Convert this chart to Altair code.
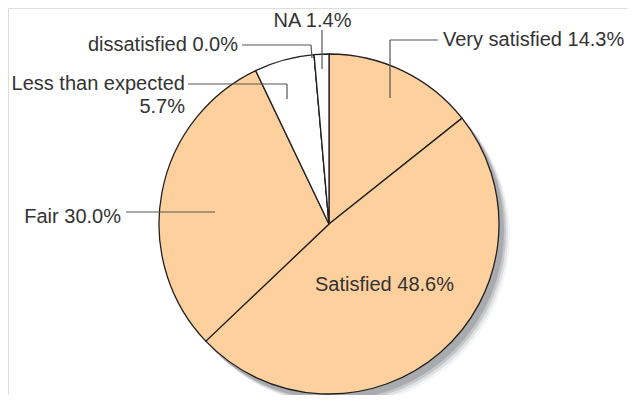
import altair as alt
import pandas as pd

# ---- data ----
categories = ["Very satisfied", "Satisfied", "Fair", "Less than expected", "dissatisfied", "NA"]
percentages = [14.3, 48.6, 30.0, 5.7, 0.0, 1.4]
slice_colors = ["#FDD09E", "#FDD09E", "#FDD09E", "#FFFFFF", "#FFFFFF", "#FFFFFF"]

# ---- layout (pixels in the view) ----
W, H = 619, 387
CX, CY, R = 321, 216, 170
FONT = "Liberation Sans"
FS = 20
TXT = "#333333"

pie_df = pd.DataFrame({
    "category": categories,
    "pct": percentages,
    "idx": list(range(len(categories))),
})

labels = [f"{c} {p:.1f}%" for c, p in zip(categories, percentages)]
label_df = pd.DataFrame({
    "text": [labels[0], labels[1], labels[2], "Less than expected", f"{percentages[3]:.1f}%", labels[4], labels[5]],
    "x": [435, 376.5, 113, 177, 177, 230, 304.5],
    "y": [38, 283, 215, 82, 105, 43, 19],
    "align": ["left", "center", "right", "right", "right", "right", "center"],
})

segments = pd.DataFrame({
    "x":  [382, 382, 118, 180, 279, 234, 303, 314],
    "y":  [90, 32, 204, 76, 76, 37, 37, 22],
    "x2": [382, 430, 207, 279, 279, 303, 304, 314],
    "y2": [32, 32, 204, 76, 91, 37, 50, 61],
})

xs = dict(scale=None, axis=None)

one = pd.DataFrame({"k": [1]})
shadow_layers = []
for off, op in [(12, 0.12), (10, 0.25), (8, 0.5), (6, 1.0)]:
    shadow_layers.append(
        alt.Chart(one).mark_arc(
            color="#A9ABAE", theta=0, theta2=6.2832, radius=R, opacity=op, strokeWidth=0
        ).encode(x=alt.value(CX + off - 1), y=alt.value(CY + off))
    )

pie = alt.Chart(pie_df).mark_arc(
    radius=R, stroke="#222222", strokeWidth=1.3
).encode(
    theta=alt.Theta("pct:Q", stack=True),
    order=alt.Order("idx:Q"),
    color=alt.Color("category:N", scale=alt.Scale(domain=categories, range=slice_colors), legend=None),
    x=alt.value(CX),
    y=alt.value(CY),
)

leaders = alt.Chart(segments).mark_rule(color="#555555", strokeWidth=1.2).encode(
    x=alt.X("x:Q", **xs), y=alt.Y("y:Q", **xs),
    x2="x2:Q", y2="y2:Q",
)

text_layers = []
for al in ["left", "center", "right"]:
    sub = label_df[label_df["align"] == al]
    text_layers.append(
        alt.Chart(sub).mark_text(
            align=al, baseline="alphabetic", font=FONT, fontSize=FS, color=TXT
        ).encode(
            x=alt.X("x:Q", **xs), y=alt.Y("y:Q", **xs), text="text:N"
        )
    )

chart = alt.layer(*shadow_layers, pie, leaders, *text_layers).properties(
    width=W, height=H,
    autosize=alt.AutoSizeParams(type="none"),
    padding=0,
).configure_view(strokeWidth=0, stroke="transparent").configure_axis(
    domain=False, ticks=False, labels=False, grid=False
).configure(background="white")

chart.save("out.html", embed_options={"renderer": "svg", "actions": False})
